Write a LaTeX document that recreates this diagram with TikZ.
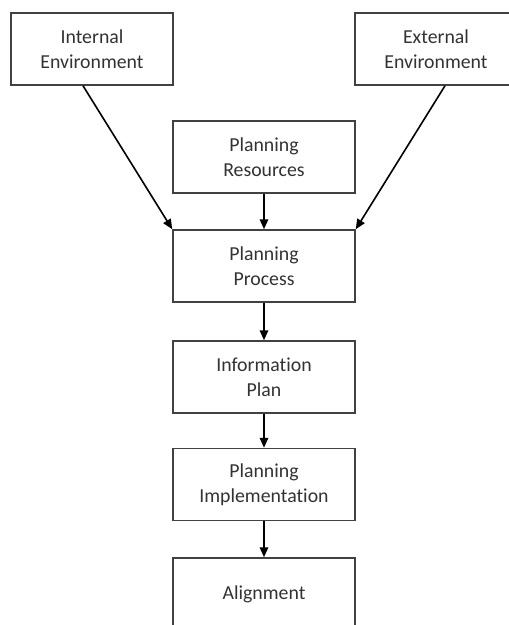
\documentclass[tikz,border=0pt]{standalone}
\usepackage{fontspec}
\setmainfont{Carlito}[Ligatures=NoCommon]
\usetikzlibrary{arrows.meta}
\definecolor{boxline}{RGB}{65,65,65}
\definecolor{txt}{RGB}{50,50,50}
\begin{document}
\begin{tikzpicture}[x=1pt,y=-1pt,
  box/.style={draw=boxline,line width=1.5pt,rectangle,minimum height=72pt,
    inner sep=0pt,align=center,text=txt,font=\fontsize{19.8}{25}\selectfont},
  sidebox/.style={box,minimum width=162pt},
  midbox/.style={box,minimum width=182pt},
  arr/.style={-{Triangle[length=10pt,width=8.5pt]},line width=1.6pt,black}]
\useasboundingbox (0,0) rectangle (509,625);
\clip (0,0) rectangle (509,625);
\node[sidebox] (int) at (92,49) {Internal\\Environment};
\node[sidebox] (ext) at (436,49) {External\\Environment};
\node[midbox] (res) at (264,157) {Planning\\Resources};
\node[midbox] (proc) at (264,266) {Planning\\Process};
\node[midbox] (info) at (264,377) {Information\\Plan};
\node[midbox] (impl) at (264,484.5) {Planning\\Implementation};
\node[midbox] (ali) at (264,594) {Alignment};
\draw[arr] ([xshift=-9pt]int.south) -- (proc.north west);
\draw[arr] ([xshift=9pt]ext.south) -- (proc.north east);
\draw[arr] (res.south) -- (proc.north);
\draw[arr] (proc.south) -- (info.north);
\draw[arr] (info.south) -- (impl.north);
\draw[arr] (impl.south) -- (ali.north);
\end{tikzpicture}
\end{document}
